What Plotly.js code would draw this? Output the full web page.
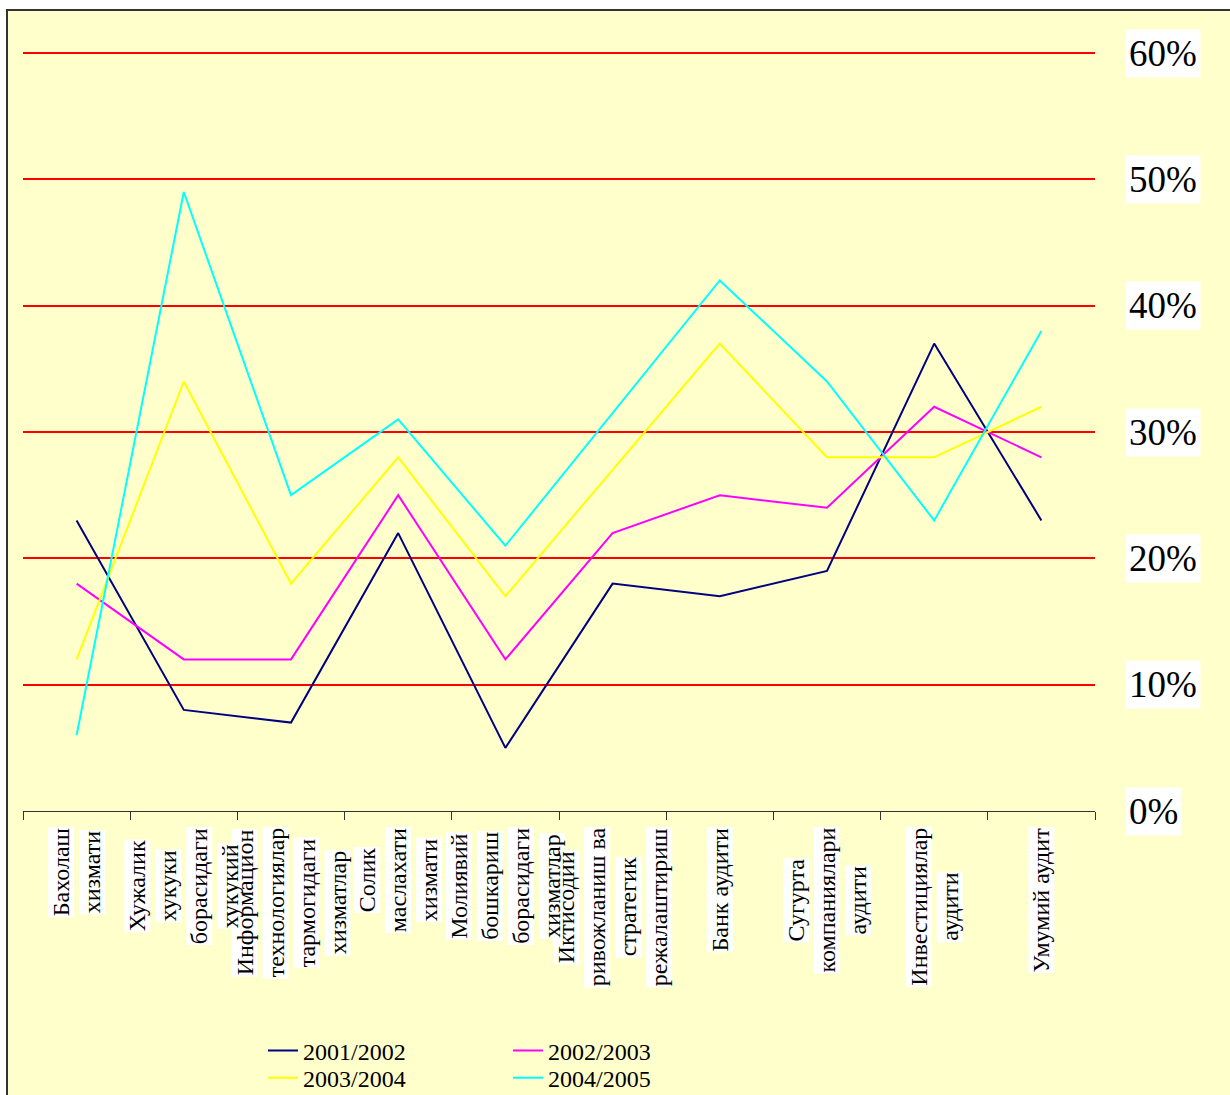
<!DOCTYPE html>
<html>
<head>
<meta charset="utf-8">
<script src="https://cdn.plot.ly/plotly-3.0.1.min.js"></script>
<style>
  html, body { margin: 0; padding: 0; background: #ffffff; overflow: hidden; width: 1230px; height: 1095px; }
  #frame { position: absolute; left: 6px; top: 9px; width: 1300px; height: 1200px; border: 2px solid #333333; background: #FFFFCC; }
  #chart { position: absolute; left: 0; top: 0; width: 1230px; height: 1095px; }
</style>
</head>
<body>
<div id="frame"></div>
<div id="chart"></div>
<script>
// ---- data ----
const categoryLines = [
  ['Бахолаш', 'хизмати'],
  ['Хужалик', 'хукуки', 'борасидаги', 'хукукий'],
  ['Информацион', 'технологиялар', 'тармогидаги', 'хизматлар'],
  ['Солик', 'маслахати', 'хизмати'],
  ['Молиявий', 'бошкариш', 'борасидаги', 'хизматлар'],
  ['Иктисодий', 'ривожланиш ва', 'стратегик', 'режалаштириш'],
  ['Банк аудити'],
  ['Сугурта', 'компаниялари', 'аудити'],
  ['Инвестициялар', 'аудити'],
  ['Умумий аудит']
];
const seriesNames = ['2001/2002', '2002/2003', '2003/2004', '2004/2005'];
const values2001_2002 = [23, 8, 7, 22, 5, 18, 17, 19, 37, 23];
const values2002_2003 = [18, 12, 12, 25, 12, 22, 25, 24, 32, 28];
const values2003_2004 = [12, 34, 18, 28, 17, 27, 37, 28, 28, 32];
const values2004_2005 = [6, 49, 25, 31, 21, 31.5, 42, 34, 23, 38];
const yTickValues = [0, 10, 20, 30, 40, 50, 60];
const yTickLabels = ['0%', '10%', '20%', '30%', '40%', '50%', '60%'];

// ---- build ----
const categories = categoryLines.map(l => l.join(' '));
const seriesValues = [values2001_2002, values2002_2003, values2003_2004, values2004_2005];
const colors = ['#000080', '#FF00FF', '#FFFF00', '#00FFFF'];
const legendIds = ['legend', 'legend', 'legend2', 'legend2'];
const FONT = 'Liberation Serif, Times New Roman, serif';

const traces = seriesValues.map((vals, i) => ({
  type: 'scatter', mode: 'lines',
  x: categories, y: vals, name: seriesNames[i],
  line: { color: colors[i], width: 2 },
  legend: legendIds[i],
  hoverinfo: 'skip'
}));

// measure text to centre the rotated lines of each label
const cv = document.createElement('canvas').getContext('2d');
const labelSize = 24;
cv.font = labelSize + 'px "Liberation Serif"';

const annotations = [];
const shapes = [];
const lineStep = 31;
const topGap = 17;
const boxThick = 26;
categoryLines.forEach((lines, ci) => {
  const lens = lines.map(t => cv.measureText(t).width);
  const maxLen = Math.max(...lens);
  const n = lines.length;
  lines.forEach((t, li) => {
    const dx = (li - (n - 1) / 2) * lineStep;
    const cy = -(topGap + maxLen / 2);
    // white box behind each rotated line
    shapes.push({
      type: 'rect', layer: 'above',
      xref: 'x', xsizemode: 'pixel', xanchor: categories[ci],
      x0: dx - boxThick / 2, x1: dx + boxThick / 2,
      yref: 'paper', ysizemode: 'pixel', yanchor: 0,
      y0: cy - lens[li] / 2 - 1, y1: cy + lens[li] / 2 + 1,
      fillcolor: '#FFFFFF', line: { width: 0 }
    });
    annotations.push({
      x: categories[ci], xref: 'x', y: 0, yref: 'paper',
      text: t, textangle: -90, showarrow: false,
      xanchor: 'center', yanchor: 'middle',
      xshift: dx, yshift: cy,
      font: { family: FONT, size: labelSize, color: '#000000' }
    });
  });
});
yTickValues.forEach((v, i) => {
  annotations.push({
    x: 1, xref: 'paper', y: v, yref: 'y',
    text: yTickLabels[i], showarrow: false,
    xanchor: 'left', yanchor: 'middle', xshift: 30,
    bgcolor: '#FFFFFF', borderpad: 3,
    font: { family: FONT, size: 37, color: '#000000' }
  });
});

const layout = {
  width: 1230, height: 1095,
  margin: { l: 23, r: 135, t: 53, b: 284, autoexpand: false },
  paper_bgcolor: 'rgba(0,0,0,0)',
  plot_bgcolor: 'rgba(0,0,0,0)',
  font: { family: FONT, color: '#000000' },
  showlegend: true,
  hovermode: false,
  xaxis: {
    type: 'category', range: [-0.5, 9.5],
    showgrid: false, zeroline: false,
    showline: true, linecolor: '#333333', linewidth: 1,
    ticks: 'outside', tickson: 'boundaries', ticklen: 8, tickcolor: '#333333', tickwidth: 1,
    showticklabels: false, fixedrange: true
  },
  yaxis: {
    range: [0, 60.4], side: 'right',
    tickmode: 'array', tickvals: [10, 20, 30, 40, 50, 60],
    showgrid: true, gridcolor: '#FF0000', gridwidth: 2,
    zeroline: false, showline: false, ticks: '',
    showticklabels: false, fixedrange: true
  },
  legend: {
    orientation: 'h', xref: 'container', yref: 'container',
    x: 0.2138, xanchor: 'left', y: 0.0402, yanchor: 'middle',
    bgcolor: 'rgba(0,0,0,0)', entrywidth: 200, entrywidthmode: 'pixels',
    font: { family: FONT, size: 24, color: '#000000' }
  },
  legend2: {
    orientation: 'h', xref: 'container', yref: 'container',
    x: 0.2138, xanchor: 'left', y: 0.0155, yanchor: 'middle',
    bgcolor: 'rgba(0,0,0,0)', entrywidth: 200, entrywidthmode: 'pixels',
    font: { family: FONT, size: 24, color: '#000000' }
  },
  shapes: shapes,
  annotations: annotations
};
// keep plot area at the reference position: top edge maps to 60.4
layout.margin.t = 53 - Math.round(0.4 * (1095 - 284 - 53) / 60);

Plotly.newPlot('chart', traces, layout, { displayModeBar: false, staticPlot: true });
</script>
</body>
</html>
